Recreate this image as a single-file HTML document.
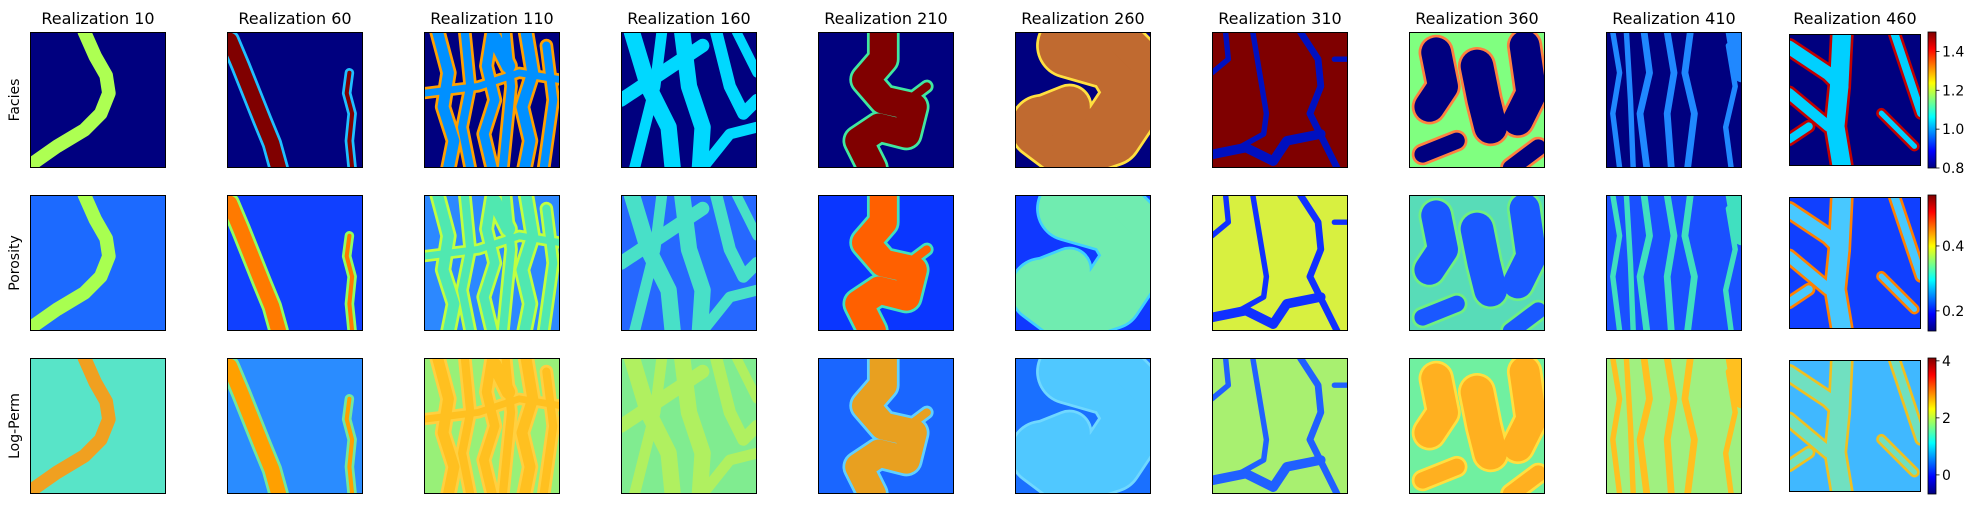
<!DOCTYPE html>
<html><head><meta charset="utf-8">
<style>
body{margin:0;background:#fff;width:1976px;height:504px;overflow:hidden;font-family:"Liberation Sans",sans-serif;}
svg text{font-family:"DejaVu Sans","Liberation Sans",sans-serif;}
</style></head>
<body>
<svg id="fig" width="1976" height="504" xmlns="http://www.w3.org/2000/svg">
<defs>
<linearGradient id="jet" x1="0" y1="1" x2="0" y2="0">
<stop offset="0" stop-color="#00007f"/><stop offset="0.125" stop-color="#0000ff"/>
<stop offset="0.375" stop-color="#00ffff"/><stop offset="0.625" stop-color="#ffff00"/>
<stop offset="0.875" stop-color="#ff0000"/><stop offset="1" stop-color="#7f0000"/>
</linearGradient>
</defs>
</svg>
<script>
const realizations = [10,60,110,160,210,260,310,360,410,460];
const rowNames = ["Facies","Porosity","Log-Perm"];
// per-column base colours per row [facies, porosity, perm]
const bgColors = [
 ["#00007f","#1c6aff","#58e4c8"],
 ["#00007f","#1040ff","#2a8cff"],
 ["#00007f","#2c88ff","#98f078"],
 ["#00007f","#2668ff","#80ec90"],
 ["#00007f","#0a36ff","#1a66ff"],
 ["#00007f","#1038ff","#1a70ff"],
 ["#7f0000","#d8f040","#a8f070"],
 ["#80ff80","#58dcb8","#70f0a0"],
 ["#00007f","#1a50ff","#a0f080"],
 ["#00007f","#1040ff","#40b8ff"]
];
// channel colours per row [facies, porosity, perm]
const chColors = [
 ["#adff52","#a8ff50","#f0a020"],
 ["#800000","#ff7a00","#ffa000"],
 ["#0090ff","#50e8b0","#ffc020"],
 ["#00d8ff","#48e0c8","#b0f060"],
 ["#800000","#ff6000","#e8a020"],
 ["#c06a30","#70ecb0","#50c8ff"],
 ["#0010c0","#1030ff","#2060ff"],
 ["#00007f","#1a58ff","#ffb020"],
 ["#2088ff","#40e0c0","#ffc020"],
 ["#00d0ff","#48c8ff","#70e0c0"]
];
// optional outline colours per row (drawn wider underneath)
const outlineColors = [null,["#20c0ff","#90ff60","#70e8a0"],["#ffa000","#c0ff40","#ffd040"],null,["#40e8a0","#40e0c0","#60d0ff"],["#ffe040","#40d0ff","#70d8ff"],null,["#ff8040","#70f080","#ffe040"],null,["#c00000","#ff8000","#f0c020"]];
// channel geometry per column: [width, points...] in 0-100 space
const channels = [
 [[10,40,0,48,18,56,32,58,45,52,60,40,72,20,84,0,98]],
 [[11,2,6,10,25,18,45,26,65,33,82,38,100],[3,90,30,88,45,92,60,90,80,92,100]],
 [[8,10,0,18,30,14,55,22,80,18,100],[7,50,0,46,25,52,50,44,75,50,100],[8,75,0,80,30,72,55,78,80,74,100],[6,30,0,34,40,28,70,34,100],[6,90,10,95,50,88,100],[5,0,45,40,40,70,30,100,35],[6,60,0,64,40,58,100],[10,52,5,62,25]],
 [[12,8,0,20,40,35,70,38,100],[12,45,0,50,40,60,70,58,100],[10,0,50,30,30,60,10],[9,70,0,80,40,90,60,100,50],[8,30,0,25,40,10,100],[7,85,0,100,30],[8,60,100,80,75,100,70]],
 [[20,48,0,48,20,35,35,48,50,70,55,65,75,45,70,30,80,40,100],[6,80,40,60,55]],
 [[45,40,10,75,20,90,45,70,75,40,85,20,70],[30,15,65,40,55],[25,80,5,95,20]],
 [[4,10,0,12,20,0,30],[4,30,0,35,30,40,60,38,75,20,85],[5,65,0,78,20,80,40,72,60,92,100],[7,0,90,25,85,45,95,55,80,80,75],[4,90,20,100,20]],
 [[22,20,15,25,40,15,55],[24,50,25,55,50,60,70],[22,85,10,90,45,80,65],[12,10,90,35,80],[12,75,100,95,85]],
 [[4,5,0,10,30,5,60,10,100],[5,28,0,32,30,25,60,30,100],[5,45,0,50,30,45,60,48,100],[5,62,0,58,30,65,60,60,100],[4,90,10,95,40,88,70,92,100],[4,15,0,18,50,20,100],[14,95,0,100,30]],
 [[14,40,0,38,40,35,70,40,100],[10,0,10,30,30,40,40],[8,0,45,30,70],[6,80,0,100,60],[4,70,60,95,85],[6,0,80,15,70]]
];
// colorbar data
const cbTicks = [[0.8,1.0,1.2,1.4],[0.2,0.4],[0,2,4]];
const cbTickLabels = [["0.8","1.0","1.2","1.4"],["0.2","0.4"],["0","2","4"]];
const cbRanges = [[0.8,1.5],[0.138,0.557],[-0.67,4.1]];

const NS="http://www.w3.org/2000/svg";
const fig=document.getElementById('fig');
function mk(tag,attrs,parent){const e=document.createElementNS(NS,tag);for(const k in attrs)e.setAttribute(k,attrs[k]);(parent||fig).appendChild(e);return e;}
const rowY=[32,195,358];
function panelBox(c,r){
 if(c===9) return {x:1789,y:rowY[r]+2,w:132,h:132};
 return {x:30+197*c,y:rowY[r],w:136,h:136};
}
for(let c=0;c<10;c++){
 const b0=panelBox(c,0);
 const t=mk('text',{x:b0.x+b0.w/2,y:24,'text-anchor':'middle','font-size':'16'});
 t.textContent='Realization '+realizations[c];
 
 
 for(let r=0;r<3;r++){
  const b=panelBox(c,r);
  const s=mk('svg',{x:b.x,y:b.y,width:b.w,height:b.h,viewBox:'0 0 100 100',preserveAspectRatio:'none'});
  
  
  mk('rect',{x:0,y:0,width:100,height:100,fill:bgColors[c][r]},s);
  const passes = outlineColors[c] ? [[outlineColors[c][r],4],[chColors[c][r],0]] : [[chColors[c][r],0]];
  for(const [col,extra] of passes){
   for(const ch of channels[c]){
    const w=ch[0];const pts=[];
    for(let i=1;i<ch.length;i+=2)pts.push(ch[i]+','+ch[i+1]);
    const p=mk('polyline',{points:pts.join(' '),fill:'none',stroke:col,'stroke-width':w+extra,'stroke-linejoin':'round','stroke-linecap':'round'},s);
    
    
   }
  }
  const fr=mk('rect',{x:b.x+0.5,y:b.y+0.5,width:b.w-1,height:b.h-1,fill:'none',stroke:'#000','stroke-width':1});
  
  
 }
}
const labY=[100,263,426];
for(let r=0;r<3;r++){
 const t=mk('text',{x:0,y:0,'text-anchor':'middle','font-size':'14',transform:`translate(19,${labY[r]}) rotate(-90)`});
 t.textContent=rowNames[r];
 
 
 const y0=rowY[r],h=136,x0=1928,w=8;
 const cb=mk('rect',{x:x0,y:y0,width:w,height:h,fill:'url(#jet)',stroke:'#000','stroke-width':0.8});
 
 
 const [lo,hi]=cbRanges[r];
 cbTicks[r].forEach((v,i)=>{
  const y=y0+h-(v-lo)/(hi-lo)*h;
  mk('line',{x1:x0+w,x2:x0+w+3.5,y1:y,y2:y,stroke:'#000','stroke-width':0.8});
  const tl=mk('text',{x:x0+w+6,y:y+5,'font-size':'14'});
  tl.textContent=cbTickLabels[r][i];
  
  
 });
}
</script>
</body></html>
